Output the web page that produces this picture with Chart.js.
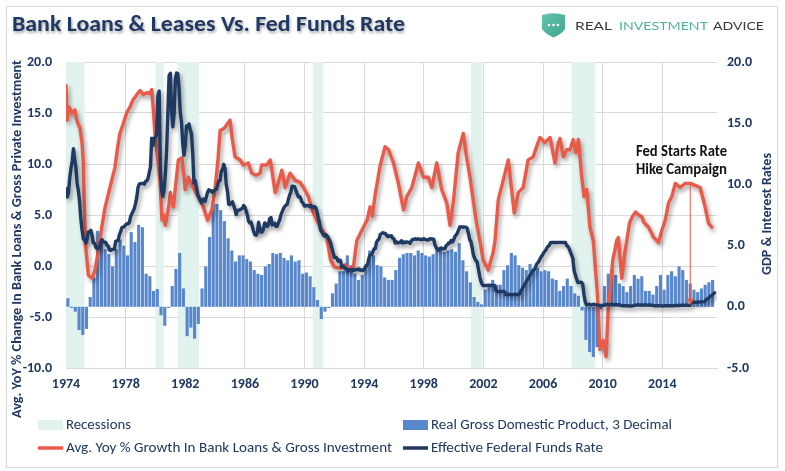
<!DOCTYPE html>
<html><head><meta charset="utf-8">
<script src="https://cdn.jsdelivr.net/npm/chart.js@4.4.1/dist/chart.umd.min.js"></script>
<style>html,body{margin:0;padding:0;background:#fff;}#wrap{position:relative;width:785px;height:471px;}canvas{display:block;}</style>
</head><body><div id="wrap"><canvas id="c" width="785" height="471"></canvas></div>
<script>
// ---------- DATA ----------
const tickYears = [1974,1978,1982,1986,1990,1994,1998,2002,2006,2010,2014];
const leftTicks = [-10,-5,0,5,10,15,20];
const rightTicks = [-5,0,5,10,15,20];
const recessionStart = [1973.83,1980.0,1981.5,1990.55,2001.17,2007.92];
const recessionEnd   = [1975.25,1980.55,1982.92,1991.25,2001.92,2009.5];
// Real GDP YoY %, quarterly from 1974Q1
const gdpFirstYear = 1974;
const gdpValues = [
 0.7,-0.1,-0.4,-1.9,  -2.3,-1.8,0.8,2.4,  6.2,5.5,4.7,4.3,  3.3,4.7,5.5,5.0,
 4.2,6.1,5.3,6.7,  6.5,2.7,2.5,1.3,  1.45,-0.7,-1.55,-0.1,  1.7,3.1,4.4,1.5,
 -2.4,-1.7,-2.6,-1.4,  1.5,3.3,5.7,8.4,  8.4,7.9,7.0,5.6,  4.6,3.7,4.2,4.2,
 3.9,3.7,3.0,2.7,  2.6,3.3,3.5,4.4,  4.3,4.4,4.0,3.8,  4.2,3.7,3.8,2.7,
 2.8,2.5,1.6,0.55,  -1.0,-0.4,-0.1,1.1,  1.9,2.9,2.9,4.2,  3.4,2.7,2.2,2.6,
 3.5,4.6,4.2,3.4,  3.3,2.4,2.2,2.2,  3.0,4.0,4.3,4.4,  4.4,4.2,4.6,4.4,
 4.2,4.1,4.3,4.6,  4.7,4.5,4.6,4.7,  4.5,5.2,3.8,2.9,  2.0,0.8,0.4,0.2,
 1.4,1.9,2.2,1.8,  1.8,3.0,3.4,4.4,  4.2,3.4,3.2,3.0,  3.5,3.1,3.2,2.9,
 3.0,2.9,2.3,2.2,  1.3,1.7,2.3,1.7,  1.1,0.9,-0.3,-2.7,  -3.7,-4.1,-3.3,-0.2,
 1.7,2.7,3.1,2.6,  1.9,1.7,1.2,1.7,  2.6,2.3,2.5,1.3,  1.3,1.0,1.7,2.6,
 1.4,2.6,2.9,2.5,  3.3,3.0,2.2,1.9,  1.4,1.2,1.5,1.8,  2.0,2.2
];
// Effective Fed Funds rate, monthly from Jan 1974
const fedFirstYear = 1974;
const fedFunds = [
 9.65,8.97,9.35,10.51,11.31,11.93,12.92,12.01,11.34,10.06,9.45,8.53,
 7.13,6.24,5.54,5.49,5.22,5.55,6.10,6.14,6.24,5.82,5.22,5.20,
 4.87,4.77,4.84,4.82,5.29,5.48,5.31,5.29,5.25,5.02,4.95,4.65,
 4.61,4.68,4.69,4.73,5.35,5.39,5.42,5.90,6.14,6.47,6.51,6.56,
 6.70,6.78,6.79,6.89,7.36,7.60,7.81,8.04,8.45,8.96,9.76,10.03,
 10.07,10.06,10.09,10.01,10.24,10.29,10.47,10.94,11.43,13.77,13.18,13.78,
 13.82,14.13,17.19,17.61,10.98,9.47,9.03,9.61,10.87,12.81,15.85,18.90,
 19.08,15.93,14.70,15.72,18.52,19.10,19.04,17.82,15.87,15.08,13.31,12.37,
 13.22,14.78,14.68,14.94,14.45,14.15,12.59,10.12,10.31,9.71,9.20,8.95,
 8.68,8.51,8.77,8.80,8.63,8.98,9.37,9.56,9.45,9.48,9.34,9.47,
 9.56,9.59,9.91,10.29,10.32,11.06,11.23,11.64,11.30,9.99,9.43,8.38,
 8.35,8.50,8.58,8.27,7.97,7.53,7.88,7.90,7.92,7.99,8.05,8.27,
 8.14,7.86,7.48,6.99,6.85,6.92,6.56,6.17,5.89,5.85,6.04,6.91,
 6.43,6.10,6.13,6.37,6.85,6.73,6.58,6.73,7.22,7.29,6.69,6.77,
 6.83,6.58,6.58,6.87,7.09,7.51,7.75,8.01,8.19,8.30,8.35,8.76,
 9.12,9.36,9.85,9.84,9.81,9.53,9.24,8.99,9.02,8.84,8.55,8.45,
 8.23,8.24,8.28,8.26,8.18,8.29,8.15,8.13,8.20,8.11,7.81,7.31,
 6.91,6.25,6.12,5.91,5.78,5.90,5.82,5.66,5.45,5.21,4.81,4.43,
 4.03,4.06,3.98,3.73,3.82,3.76,3.25,3.30,3.22,3.10,3.09,2.92,
 3.02,3.03,3.07,2.96,3.00,3.04,3.06,3.03,3.09,2.99,3.02,2.96,
 3.05,3.25,3.34,3.56,4.01,4.25,4.26,4.47,4.73,4.76,5.29,5.45,
 5.53,5.92,5.98,6.05,6.01,6.00,5.85,5.74,5.80,5.76,5.80,5.60,
 5.56,5.22,5.31,5.22,5.24,5.27,5.40,5.22,5.30,5.24,5.31,5.29,
 5.25,5.19,5.39,5.51,5.50,5.56,5.52,5.54,5.54,5.50,5.52,5.50,
 5.56,5.51,5.49,5.45,5.49,5.56,5.54,5.55,5.51,5.07,4.83,4.68,
 4.63,4.76,4.81,4.74,4.74,4.76,4.99,5.07,5.22,5.20,5.42,5.30,
 5.45,5.73,5.85,6.02,6.27,6.53,6.54,6.50,6.52,6.51,6.51,6.40,
 5.98,5.49,5.31,4.80,4.21,3.97,3.77,3.65,3.07,2.49,2.09,1.82,
 1.73,1.74,1.73,1.75,1.75,1.75,1.73,1.74,1.75,1.75,1.34,1.24,
 1.24,1.26,1.25,1.26,1.26,1.22,1.01,1.03,1.01,1.01,1.00,0.98,
 1.00,1.01,1.00,1.00,1.00,1.03,1.26,1.43,1.61,1.76,1.93,2.16,
 2.28,2.50,2.63,2.79,3.00,3.04,3.26,3.50,3.62,3.78,4.00,4.16,
 4.29,4.49,4.59,4.79,4.94,4.99,5.24,5.25,5.25,5.25,5.25,5.24,
 5.25,5.26,5.26,5.25,5.25,5.25,5.26,5.02,4.94,4.76,4.49,4.24,
 3.94,2.98,2.61,2.28,1.98,2.00,2.01,2.00,1.81,0.97,0.39,0.16,
 0.15,0.22,0.18,0.15,0.18,0.21,0.16,0.16,0.15,0.12,0.12,0.12,
 0.11,0.13,0.16,0.20,0.20,0.18,0.18,0.19,0.19,0.19,0.19,0.18,
 0.17,0.16,0.14,0.10,0.09,0.09,0.07,0.10,0.08,0.07,0.08,0.07,
 0.08,0.10,0.13,0.14,0.16,0.16,0.16,0.13,0.14,0.16,0.16,0.16,
 0.14,0.15,0.14,0.15,0.11,0.09,0.09,0.08,0.08,0.09,0.08,0.09,
 0.07,0.07,0.08,0.09,0.09,0.10,0.09,0.09,0.09,0.09,0.09,0.12,
 0.11,0.11,0.11,0.12,0.12,0.13,0.13,0.14,0.14,0.12,0.12,0.24,
 0.34,0.38,0.36,0.37,0.37,0.38,0.39,0.40,0.40,0.40,0.41,0.54,
 0.65,0.66,0.79,0.90,0.91,1.04,1.15
];
// Avg YoY % growth in bank loans & gross investment (left axis)
const loanYears = [
 1974.00,1974.08,1974.20,1974.40,1974.60,1974.72,1974.94,1975.08,1975.16,1975.22,1975.30,1975.50,1975.75,1975.95,
 1976.18,1976.40,1976.63,1976.90,1977.10,1977.29,1977.45,1977.62,1977.85,1978.07,1978.30,1978.50,1978.75,1978.97,
 1979.20,1979.42,1979.60,1979.75,1979.85,1979.97,1980.15,1980.31,1980.44,1980.55,1980.66,1980.89,1981.00,1981.20,
 1981.40,1981.54,1981.77,1981.90,1981.99,1982.21,1982.54,1982.85,1983.00,1983.21,1983.34,1983.50,1983.78,1984.00,
 1984.20,1984.34,1984.50,1984.67,1984.85,1985.00,1985.15,1985.34,1985.68,1985.90,1986.23,1986.46,1986.75,1987.02,
 1987.13,1987.47,1987.70,1987.80,1988.03,1988.25,1988.48,1988.70,1989.03,1989.37,1989.70,1989.93,1990.26,1990.60,
 1991.05,1991.50,1991.75,1992.00,1992.40,1992.72,1993.00,1993.28,1993.40,1993.51,1993.75,1993.95,1994.20,1994.40,
 1994.55,1994.74,1995.07,1995.40,1995.63,1995.97,1996.30,1996.64,1996.86,1997.20,1997.64,1997.98,1998.31,1998.54,
 1998.87,1999.20,1999.54,1999.76,1999.98,2000.31,2000.65,2000.87,2001.10,2001.54,2001.87,2001.98,2002.32,2002.55,
 2002.65,2002.78,2003.00,2003.33,2003.67,2003.89,2004.07,2004.34,2004.67,2005.00,2005.34,2005.57,2005.79,2006.13,
 2006.47,2006.80,2007.03,2007.14,2007.36,2007.59,2007.81,2008.03,2008.21,2008.37,2008.60,2008.75,2008.93,2009.15,
 2009.37,2009.64,2009.82,2010.04,2010.23,2010.38,2010.50,2010.68,2010.83,2010.94,2011.05,2011.28,2011.45,2011.62,
 2011.80,2011.98,2012.20,2012.42,2012.64,2012.75,2013.08,2013.42,2013.75,2013.97,2014.20,2014.42,2014.64,2014.87,
 2015.20,2015.54,2015.87,2016.20,2016.54,2016.87,2017.10,2017.32
];
const loanValues = [
 17.7,14.3,15.6,15.0,15.3,14.3,13.5,12.0,10.2,6.5,2.2,-0.9,-1.2,-0.4,
 1.6,3.8,5.8,7.4,8.6,9.7,11.5,13.0,14.0,15.0,15.6,16.3,16.8,17.2,
 16.8,17.0,16.9,17.3,15.5,13.0,10.5,8.1,4.5,5.0,4.0,5.8,7.2,5.8,
 8.5,10.4,10.6,9.0,7.5,8.7,7.7,6.8,6.5,5.8,5.2,4.5,5.5,7.5,
 10.5,13.3,13.4,13.6,14.0,14.3,12.5,10.7,10.4,9.9,10.1,9.1,8.9,9.1,
 9.9,9.9,10.4,9.5,7.2,8.2,9.4,7.7,9.1,8.4,8.2,7.7,6.8,5.2,
 3.8,2.8,0.6,-0.1,-0.2,0.1,-0.3,-0.1,1.3,2.5,3.2,3.8,4.5,5.8,
 4.9,7.0,9.8,11.7,11.4,10.1,8.1,5.5,6.8,7.7,10.1,8.7,8.7,7.7,
 10.1,7.5,6.2,4.0,6.2,11.1,13.0,10.7,8.7,4.2,1.6,0.6,-0.4,0.8,
 1.3,2.5,6.5,8.4,10.4,7.5,5.2,7.2,7.7,10.4,10.7,11.7,12.6,12.1,
 12.6,10.1,12.1,12.5,10.7,11.4,11.4,12.4,11.1,12.4,8.7,6.8,7.5,3.8,
 2.5,-2.6,-8.2,-7.3,-8.9,-4.0,-2.4,0.6,1.6,2.5,2.8,-1.2,0.9,2.5,
 4.2,4.8,5.3,5.0,4.8,4.3,3.8,2.8,2.3,3.5,4.5,6.2,6.8,8.1,
 7.7,8.1,8.1,7.9,7.7,5.8,4.2,3.8
];
const hikeDate = 2015.875, hikeLoanLevel = 8.0, hikeFedLevel = 0.1;
const xMin = 1974, xMax = 2017.67;

// ---------- STYLE ----------
const NAVY = '#1F3864', RED = '#E95A48', LINE_NAVY = '#1E3A63', BAR = '#5887CC', REC = '#E2F2EE', GRID = '#D9D9D9';
const BASE = '"Liberation Sans", Arial, sans-serif';
function hasFont(name) {
  const c = document.createElement('canvas').getContext('2d');
  c.font = '20px monospace'; const a = c.measureText('abcdefghij1234WMil').width;
  c.font = '20px "' + name + '", monospace'; const b = c.measureText('abcdefghij1234WMil').width;
  return Math.abs(a - b) > 0.5;
}
const CAL = hasFont('Carlito');
const FONT = CAL ? 'Carlito, ' + BASE : BASE;
const TICK_SIZE = CAL ? 14 : 13;
Chart.defaults.font.family = FONT;

const gdpData = gdpValues.map((v, i) => ({x: gdpFirstYear + i * 0.25 + 0.125, y: v}));
const fedData = fedFunds.map((v, i) => ({x: fedFirstYear + i / 12, y: v}));
const loanData = loanYears.map((yr, i) => ({x: yr, y: loanValues[i]}));

function fitText(ctx, text, x, y, width) {
  const w = ctx.measureText(text).width;
  ctx.save(); ctx.translate(x, y); ctx.scale(width / w, 1);
  ctx.textAlign = 'left'; ctx.fillText(text, 0, 0); ctx.restore();
}

const decor = {
  id: 'decor',
  beforeDraw(chart) {
    const ctx = chart.ctx;
    ctx.save();
    ctx.fillStyle = '#fff'; ctx.fillRect(0, 0, chart.width, chart.height);
    ctx.strokeStyle = GRID; ctx.lineWidth = 1;
    ctx.strokeRect(6.5, 6.5, 771, 461);
    ctx.restore();
  },
  beforeDatasetsDraw(chart) {
    const {ctx, chartArea: a, scales: {x}} = chart;
    ctx.save();
    ctx.fillStyle = REC;
    for (let i = 0; i < recessionStart.length; i++) {
      const x0 = Math.max(a.left, x.getPixelForValue(recessionStart[i]));
      const x1 = Math.min(a.right, x.getPixelForValue(recessionEnd[i]));
      ctx.fillRect(x0, a.top, x1 - x0, a.bottom - a.top);
    }
    ctx.restore();
  },
  beforeDatasetDraw(chart, args) {
    if (args.meta.type === 'line') {
      const ctx = chart.ctx; ctx.save();
      ctx.shadowColor = 'rgba(0,0,0,0.38)'; ctx.shadowBlur = 4;
      ctx.shadowOffsetX = 2; ctx.shadowOffsetY = 3;
    }
  },
  afterDatasetDraw(chart, args) {
    if (args.meta.type === 'line') chart.ctx.restore();
  },
  afterDraw(chart) {
    const {ctx, scales: {x, y, y1}} = chart;
    ctx.save();
    // title
    ctx.save();
    ctx.shadowColor = 'rgba(0,0,0,0.35)'; ctx.shadowBlur = 3; ctx.shadowOffsetX = 1; ctx.shadowOffsetY = 2;
    ctx.fillStyle = NAVY; ctx.font = (CAL ? 'bold 23px ' : 'bold 21px ') + FONT; ctx.textBaseline = 'alphabetic';
    fitText(ctx, 'Bank Loans & Leases Vs. Fed Funds Rate', 12, 31, 393);
    ctx.restore();
    // logo shield
    const g = ctx.createLinearGradient(542, 13, 565, 37);
    g.addColorStop(0, '#63C4AC'); g.addColorStop(1, '#3EA68B');
    ctx.fillStyle = g;
    ctx.beginPath();
    ctx.moveTo(542, 15); ctx.quadraticCurveTo(553.5, 11.5, 565, 15);
    ctx.lineTo(565, 29); ctx.quadraticCurveTo(561, 34.5, 553.5, 37.5);
    ctx.quadraticCurveTo(546, 34.5, 542, 29); ctx.closePath(); ctx.fill();
    ctx.fillStyle = '#fff';
    [549, 553.5, 558].forEach(cx => { ctx.beginPath(); ctx.arc(cx, 25, 1.3, 0, Math.PI * 2); ctx.fill(); });
    ctx.font = '12px Lato, ' + BASE; ctx.textBaseline = 'alphabetic';
    ctx.fillStyle = '#3a3a3a'; fitText(ctx, 'REAL', 575, 30, 37);
    ctx.fillStyle = '#4DB39B'; fitText(ctx, 'INVESTMENT', 619, 30, 89);
    ctx.fillStyle = '#3a3a3a'; fitText(ctx, 'ADVICE', 713, 30, 51);
    // axis titles
    ctx.fillStyle = NAVY; ctx.font = (CAL ? 'bold 14px ' : 'bold 12.5px ') + FONT; ctx.textBaseline = 'middle';
    ctx.save(); ctx.translate(17, 239); ctx.rotate(-Math.PI / 2);
    fitText(ctx, 'Avg. YoY % Change In Bank Loans & Gross Private Investment', -179, 0, 358);
    ctx.restore();
    ctx.save(); ctx.translate(767, 214); ctx.rotate(-Math.PI / 2);
    fitText(ctx, 'GDP & Interest Rates', -61, 0, 122);
    ctx.restore();
    // annotation
    const ax = x.getPixelForValue(hikeDate);
    const ay0 = y.getPixelForValue(hikeLoanLevel);
    const ay1 = y1.getPixelForValue(hikeFedLevel);
    ctx.strokeStyle = RED; ctx.fillStyle = RED; ctx.lineWidth = 1;
    ctx.beginPath(); ctx.moveTo(ax, ay0); ctx.lineTo(ax, ay1 - 6); ctx.stroke();
    ctx.beginPath(); ctx.moveTo(ax - 3.5, ay1 - 7); ctx.lineTo(ax + 3.5, ay1 - 7); ctx.lineTo(ax, ay1); ctx.closePath(); ctx.fill();
    ctx.fillStyle = '#111'; ctx.font = (CAL ? 'bold 16px ' : 'bold 15px ') + FONT; ctx.textBaseline = 'middle';
    fitText(ctx, 'Fed Starts Rate', 636, 152, 91);
    fitText(ctx, 'Hike Campaign', 636, 170, 91);
    // legend
    ctx.fillStyle = REC; ctx.fillRect(38, 420, 25, 10);
    ctx.fillStyle = BAR; ctx.fillRect(403, 420, 25, 10);
    ctx.lineWidth = 3.5; ctx.lineCap = 'butt';
    ctx.strokeStyle = RED; ctx.beginPath(); ctx.moveTo(38, 448); ctx.lineTo(63, 448); ctx.stroke();
    ctx.strokeStyle = LINE_NAVY; ctx.beginPath(); ctx.moveTo(403, 448); ctx.lineTo(428, 448); ctx.stroke();
    ctx.fillStyle = NAVY; ctx.font = (CAL ? '14px ' : '13px ') + FONT; ctx.textBaseline = 'middle';
    fitText(ctx, 'Recessions', 66, 425, 65);
    fitText(ctx, 'Real Gross Domestic Product, 3 Decimal', 431, 425, 241);
    fitText(ctx, 'Avg. Yoy % Growth In Bank Loans & Gross Investment', 66, 448, 326);
    fitText(ctx, 'Effective Federal Funds Rate', 431, 448, 172);
    ctx.restore();
  }
};

new Chart(document.getElementById('c'), {
  type: 'bar',
  data: {
    datasets: [
      {type: 'line', label: 'Effective Federal Funds Rate', data: fedData, yAxisID: 'y1', borderColor: LINE_NAVY,
       borderWidth: 3.4, pointRadius: 0, tension: 0, order: 0, borderJoinStyle: 'round', borderCapStyle: 'round'},
      {type: 'line', label: 'Avg. Yoy % Growth In Bank Loans & Gross Investment', data: loanData, yAxisID: 'y', borderColor: RED,
       borderWidth: 3.4, pointRadius: 0, tension: 0, order: 1, borderJoinStyle: 'round', borderCapStyle: 'round'},
      {type: 'bar', label: 'Real Gross Domestic Product, 3 Decimal', data: gdpData, yAxisID: 'y1', backgroundColor: BAR,
       borderWidth: 0, barPercentage: 0.84, categoryPercentage: 1.0, order: 2}
    ]
  },
  options: {
    responsive: false, animation: false, devicePixelRatio: 1,
    layout: {padding: {top: 62, left: 0, right: 0, bottom: 0}},
    plugins: {legend: {display: false}, tooltip: {enabled: false}, title: {display: false}},
    scales: {
      x: {type: 'linear', min: xMin, max: xMax, offset: false,
          afterBuildTicks: s => { s.ticks = tickYears.map(v => ({value: v})); },
          afterFit: s => { s.height = 103; },
          ticks: {autoSkip: false, maxRotation: 0, padding: 8, color: NAVY, font: {size: TICK_SIZE, weight: 'bold'}, callback: v => String(v)},
          grid: {color: GRID, drawTicks: false, offset: false}, border: {color: GRID}},
      y: {position: 'left', min: -10, max: 20,
          afterBuildTicks: s => { s.ticks = leftTicks.map(v => ({value: v})); },
          afterFit: s => { s.width = 66; },
          ticks: {padding: 14, color: NAVY, font: {size: TICK_SIZE, weight: 'bold'}, callback: v => Number(v).toFixed(1)},
          grid: {color: GRID, drawTicks: false}, border: {color: GRID}},
      y1: {position: 'right', min: -5, max: 20,
          afterBuildTicks: s => { s.ticks = rightTicks.map(v => ({value: v})); },
          afterFit: s => { s.width = 68; },
          ticks: {padding: 10, color: NAVY, font: {size: TICK_SIZE, weight: 'bold'}, callback: v => Number(v).toFixed(1)},
          grid: {display: false, drawTicks: false}, border: {display: false}}
    }
  },
  plugins: [decor]
});
</script>
</body></html>
